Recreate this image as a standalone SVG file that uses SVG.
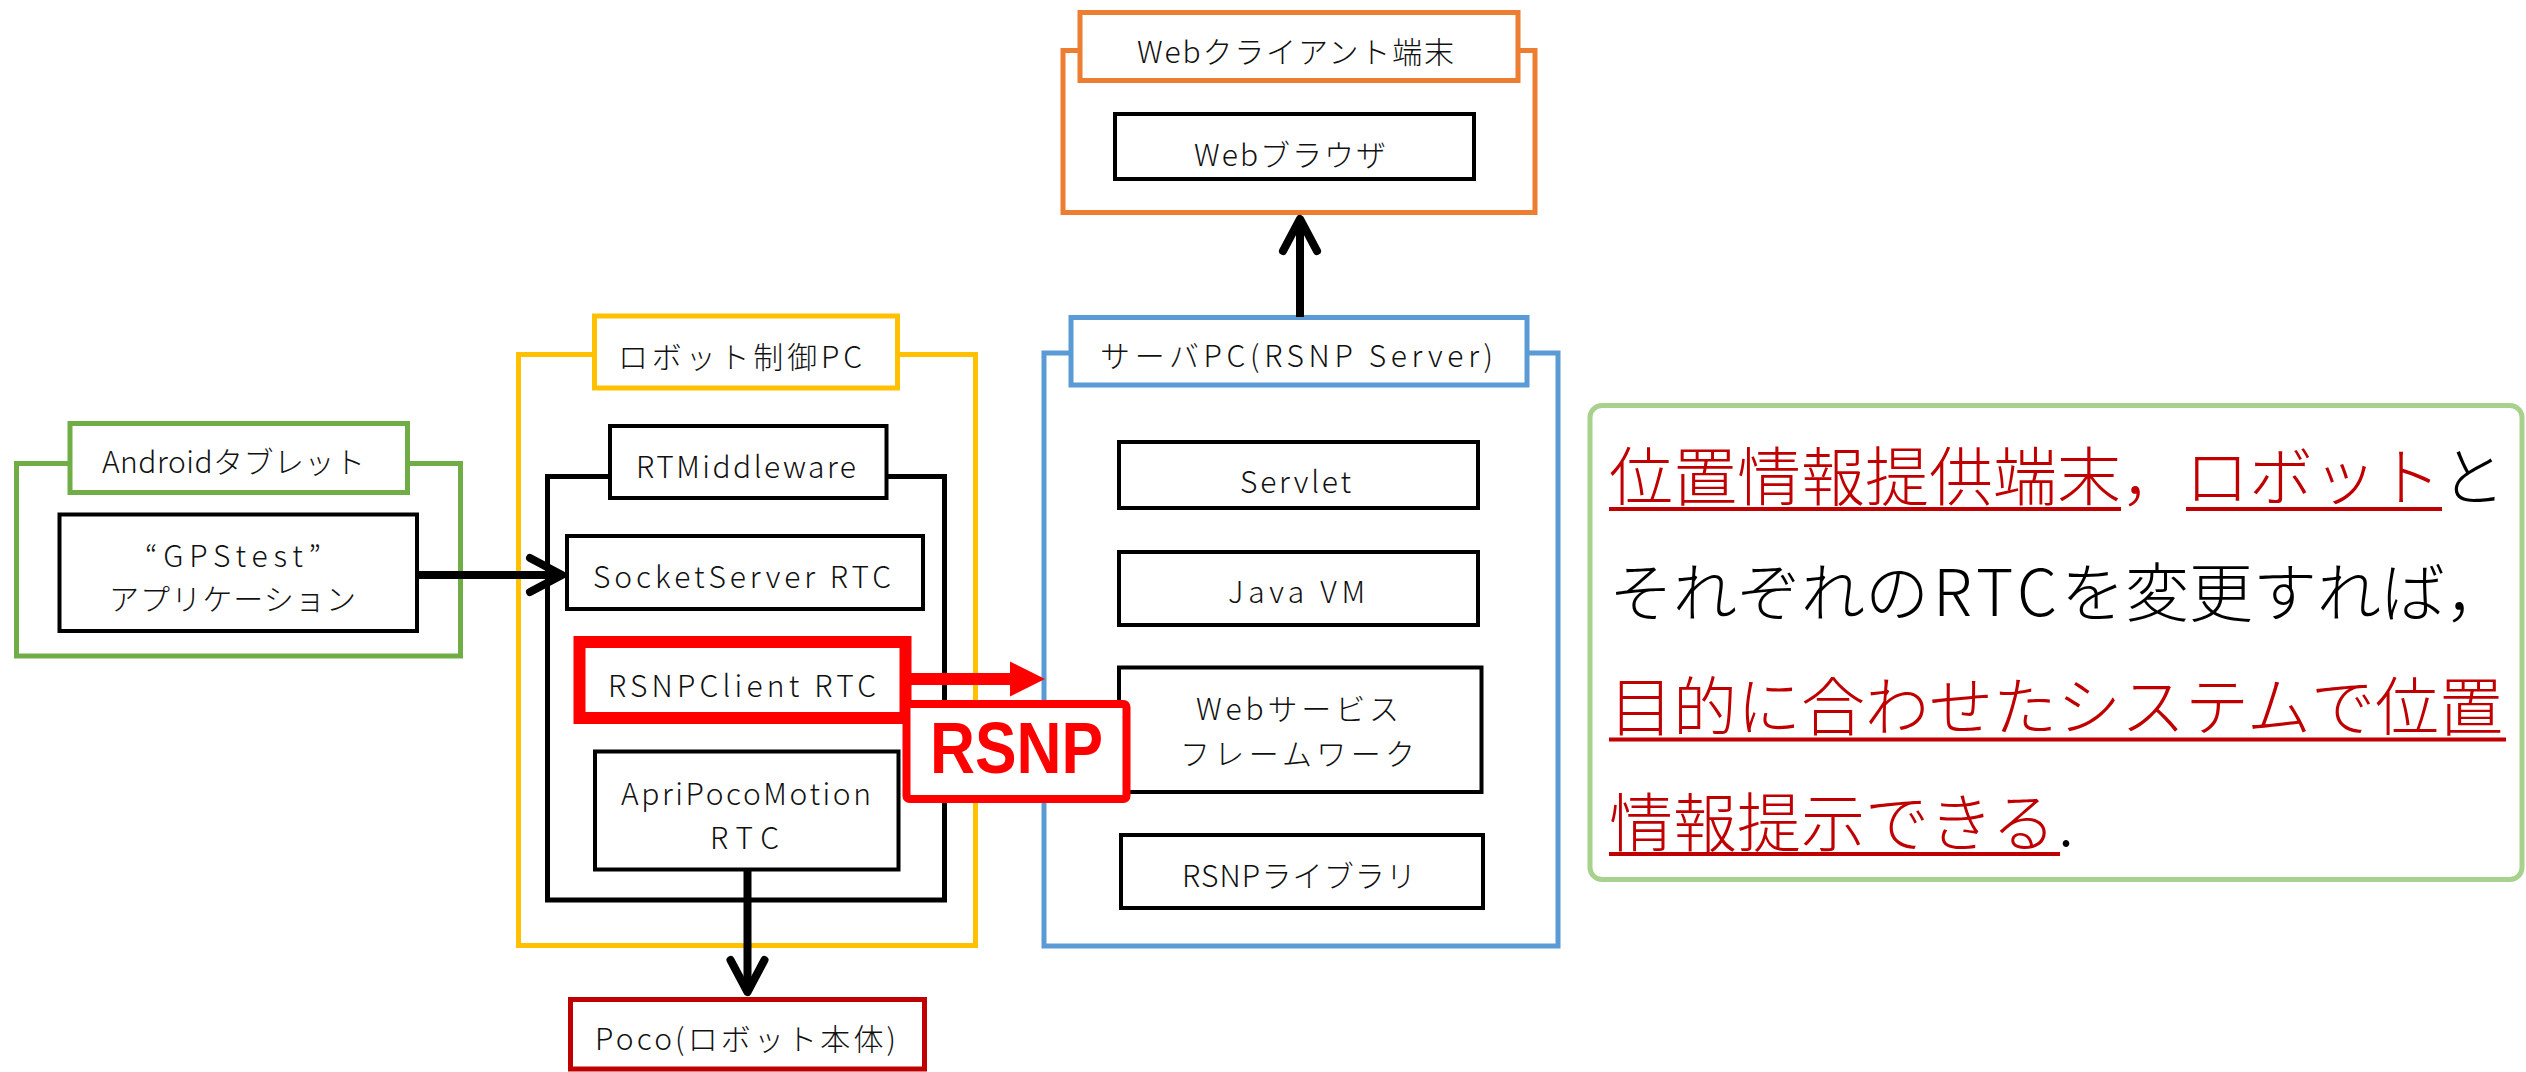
<svg xmlns="http://www.w3.org/2000/svg" width="2526" height="1072" viewBox="0 0 2526 1072">
<style>
.lbl{font-family:"Noto Sans CJK JP","Noto Sans",sans-serif;font-size:30px;font-weight:300;fill:#111}
.note{font-family:"Noto Sans CJK JP","Noto Sans",sans-serif;font-size:64px;font-weight:300}
.red{fill:#C00000}
.blk{fill:#000}
.box{fill:#fff;stroke:#000;stroke-width:4}
.g{fill:#fff;stroke:#70AD47;stroke-width:5}
.y{fill:#fff;stroke:#FFC000;stroke-width:5}
.o{fill:#fff;stroke:#ED7D31;stroke-width:5}
.b{fill:#fff;stroke:#5B9BD5;stroke-width:5}
.conn{fill:none;stroke:#000;stroke-width:8}
.ul{stroke:#C00000;stroke-width:4}
</style>
<defs>
<marker id="chev" markerUnits="userSpaceOnUse" viewBox="-40 -25 50 50" refX="0" refY="0" markerWidth="50" markerHeight="50" orient="auto" overflow="visible">
<path d="M-32,-17 L0,0 L-32,17" fill="none" stroke="#000" stroke-width="8" stroke-linecap="round" stroke-linejoin="round"/>
</marker>
<marker id="tri" markerUnits="userSpaceOnUse" viewBox="-5 -20 45 40" refX="2" refY="0" markerWidth="45" markerHeight="40" orient="auto" overflow="visible">
<path d="M0,-17.5 L35,0 L0,17.5 Z" fill="#FF0000"/>
</marker>
</defs>

<g id="android">
<rect class="g" x="16.5" y="463.5" width="444" height="192.5"/>
<rect class="g" x="70" y="423.5" width="337.5" height="69"/>
<text class="lbl" x="102" y="473" textLength="263">Androidタブレット</text>
<rect class="box" x="59.5" y="514.5" width="357.5" height="116.5"/>
<text class="lbl" x="145" y="567" textLength="176">“GPStest”</text>
<text class="lbl" x="109" y="610" textLength="247">アプリケーション</text>
</g>

<g id="robot-pc">
<rect class="y" x="518.5" y="354.5" width="457" height="591"/>
<rect class="y" x="594.5" y="316" width="303" height="72"/>
<text class="lbl" x="618" y="368" textLength="244">ロボット制御PC</text>
</g>

<g id="rtmiddleware">
<rect fill="#fff" stroke="#000" stroke-width="5" x="547.5" y="476.5" width="397" height="423.5"/>
<rect class="box" x="610" y="426" width="276.5" height="72"/>
<text class="lbl" x="636" y="478" textLength="220">RTMiddleware</text>
</g>

<g id="socketserver">
<rect class="box" x="567" y="536" width="356" height="73"/>
<text class="lbl" x="593" y="588" textLength="298">SocketServer RTC</text>
</g>

<g id="rsnpclient">
<rect fill="#fff" stroke="#FF0000" stroke-width="12" x="579.5" y="642" width="326" height="76"/>
<text class="lbl" x="608" y="697" textLength="268">RSNPClient RTC</text>
</g>

<g id="apripocomotion">
<rect class="box" x="595" y="751.5" width="303.5" height="118"/>
<text class="lbl" x="621" y="805" textLength="250">ApriPocoMotion</text>
<text class="lbl" x="710" y="849" textLength="69">RTC</text>
</g>

<g id="poco">
<rect fill="#fff" stroke="#C00000" stroke-width="5" x="570.5" y="999.5" width="354" height="69.5"/>
<text class="lbl" x="595" y="1050" textLength="301">Poco(ロボット本体)</text>
</g>

<g id="web-client">
<rect class="o" x="1063" y="50.5" width="472" height="162"/>
<rect class="o" x="1080" y="12.5" width="438" height="68"/>
<text class="lbl" x="1137" y="63" textLength="317">Webクライアント端末</text>
</g>

<g id="web-browser">
<rect class="box" x="1115" y="114" width="359" height="65"/>
<text class="lbl" x="1194" y="166" textLength="192">Webブラウザ</text>
</g>

<g id="server-pc">
<rect class="b" x="1044" y="353" width="514" height="593"/>
<rect class="b" x="1071" y="317.5" width="456" height="67.5"/>
<text class="lbl" x="1100" y="367" textLength="393">サーバPC(RSNP Server)</text>
</g>

<g id="servlet">
<rect class="box" x="1119" y="442" width="359" height="66"/>
<text class="lbl" x="1240" y="493" textLength="111">Servlet</text>
</g>

<g id="javavm">
<rect class="box" x="1119" y="552" width="359" height="73"/>
<text class="lbl" x="1228" y="603" textLength="137">Java VM</text>
</g>

<g id="webservice">
<rect class="box" x="1119" y="667.5" width="362.5" height="124.5"/>
<text class="lbl" x="1196" y="720" textLength="203">Webサービス</text>
<text class="lbl" x="1180" y="765" textLength="235">フレームワーク</text>
</g>

<g id="rsnplib">
<rect class="box" x="1121" y="835" width="362" height="73"/>
<text class="lbl" x="1182" y="887" textLength="234">RSNPライブラリ</text>
</g>

<g id="connectors">
<path class="conn" d="M417,575 L562,575" marker-end="url(#chev)"/>
<path class="conn" d="M747.5,869.5 L747.5,992" marker-end="url(#chev)"/>
<path class="conn" d="M1300,317 L1300,219" marker-end="url(#chev)"/>
<path fill="none" stroke="#FF0000" stroke-width="12" d="M911,679 L1012,679" marker-end="url(#tri)"/>
</g>

<g id="rsnp-label">
<rect fill="#fff" stroke="#FF0000" stroke-width="8" x="906.5" y="704" width="220" height="95" rx="3"/>
<text x="930" y="773" textLength="173" lengthAdjust="spacingAndGlyphs" font-family="'Liberation Sans',Arial,sans-serif" font-weight="bold" font-size="72" fill="#FF0000">RSNP</text>
</g>

<g id="note">
<rect fill="#fff" stroke="#A9D18E" stroke-width="5" x="1590" y="405.5" width="932" height="474" rx="12"/>
<text class="note" y="500"><tspan class="red" x="1609">位置情報提供端末</tspan><tspan class="red">，</tspan><tspan class="red">ロボット</tspan><tspan class="blk">と</tspan></text>
<line class="ul" x1="1609" y1="509" x2="2121" y2="509"/>
<line class="ul" x1="2186" y1="509" x2="2442" y2="509"/>
<text class="note blk" y="616"><tspan x="1609">それぞれの</tspan><tspan x="1933" letter-spacing="5">RTC</tspan><tspan x="2061">を変更すれば，</tspan></text>
<text class="note red" x="1609" y="730">目的に合わせたシステムで位置</text>
<line class="ul" x1="1609" y1="739.5" x2="2506" y2="739.5"/>
<text class="note" y="846"><tspan class="red" x="1609">情報提示できる</tspan><tspan class="blk" x="2058">.</tspan></text>
<line class="ul" x1="1609" y1="854" x2="2060" y2="854"/>
</g>
</svg>
